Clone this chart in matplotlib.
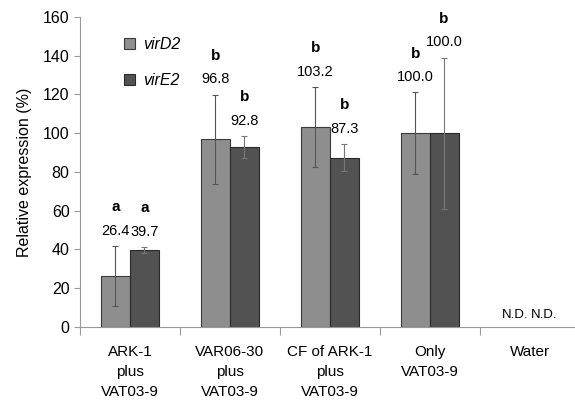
import matplotlib
matplotlib.use('Agg')
import matplotlib.pyplot as plt
import numpy as np

plt.rcParams['font.family'] = ['Liberation Sans', 'DejaVu Sans']

# data
groups = ['ARK-1\nplus\nVAT03-9', 'VAR06-30\nplus\nVAT03-9', 'CF of ARK-1\nplus\nVAT03-9',
          'Only\nVAT03-9', 'Water']
virD2 = [26.4, 96.8, 103.2, 100.0, 0]
virE2 = [39.7, 92.8, 87.3, 100.0, 0]
virD2_err = [15.4, 23.0, 20.7, 21.0, 0]
virE2_err = [1.6, 5.8, 6.9, 39.0, 0]
virD2_sig = ['a', 'b', 'b', 'b', '']
virE2_sig = ['a', 'b', 'b', 'b', '']

fig = plt.figure(figsize=(5.75, 4.01), dpi=100)
ax = fig.add_axes([0.139, 0.185, 0.861, 0.773])

x = np.arange(1, len(groups) + 1)
w = 0.29
ax.bar(x[:4] - w / 2, virD2[:4], w, color='#8e8e8e', edgecolor='#3a3a3a', linewidth=0.8,
       label='virD2')
ax.bar(x[:4] + w / 2, virE2[:4], w, color='#525252', edgecolor='#2a2a2a', linewidth=0.8,
       label='virE2')
ax.errorbar(x[:4] - w / 2, virD2[:4], yerr=virD2_err[:4], fmt='none', ecolor='#555555',
            elinewidth=0.8, capsize=2.5, capthick=0.8)
ax.errorbar(x[:4] + w / 2, virE2[:4], yerr=virE2_err[:4], fmt='none', ecolor='#777777',
            elinewidth=0.8, capsize=2.5, capthick=0.8)

# value labels and significance letters
for xs, vals, errs, sig in [(x - w / 2, virD2, virD2_err, virD2_sig),
                            (x + w / 2, virE2, virE2_err, virE2_sig)]:
    for i in range(4):
        top = vals[i] + errs[i]
        ax.annotate(f'{vals[i]:.1f}', (xs[i], top), xytext=(0, 11), textcoords='offset points',
                    ha='center', va='center', fontsize=10.5)
        ax.annotate(sig[i], (xs[i], top), xytext=(0, 28), textcoords='offset points',
                    ha='center', va='center', fontsize=11, fontweight='bold')

ax.text(x[4] - w / 2, 3, 'N.D.', ha='center', va='bottom', fontsize=9.5)
ax.text(x[4] + w / 2, 3, 'N.D.', ha='center', va='bottom', fontsize=9.5)

ax.set_xlim(0.5, 5.455)
ax.set_ylim(0, 160)
ax.set_yticks(np.arange(0, 161, 20))
ax.tick_params(axis='y', labelsize=11.5, length=4, color='#999999', width=0.8)
ax.set_xticks(x)
ax.set_xticklabels(groups, fontsize=11, linespacing=1.55)
ax.tick_params(axis='x', length=0, pad=13)
ax.set_xticks(np.arange(0.5, 5.5, 1), minor=True)
ax.tick_params(axis='x', which='minor', length=6, color='#999999', width=0.8)

for s in ['top', 'right']:
    ax.spines[s].set_visible(False)
for s in ['left', 'bottom']:
    ax.spines[s].set_color('#999999')
    ax.spines[s].set_linewidth(0.8)

ax.set_ylabel('Relative expression (%)', fontsize=11.5, labelpad=8)

ax.legend(loc='upper left', bbox_to_anchor=(0.06, 0.98), frameon=False,
          handlelength=0.7, handleheight=0.7, labelspacing=1.3, handletextpad=0.5,
          prop={'style': 'italic', 'size': 11.5})

fig.savefig('out.png', dpi=100)
